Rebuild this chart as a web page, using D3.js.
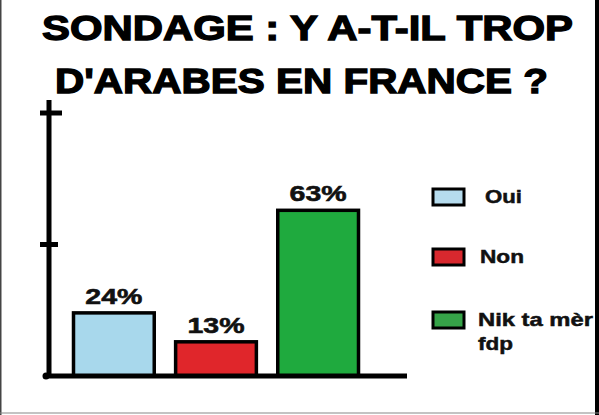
<!DOCTYPE html>
<html>
<head>
<meta charset="utf-8">
<script src="https://cdn.jsdelivr.net/npm/d3@7"></script>
<style>
  html, body { margin: 0; padding: 0; background: #fff; }
  svg { display: block; }
  text { font-family: "Liberation Sans", Arial, sans-serif; font-weight: bold; }
</style>
</head>
<body>
<script>
const titleLines = ["SONDAGE : Y A-T-IL TROP", "D'ARABES EN FRANCE ?"];
const categories = ["Oui", "Non", "Nik ta mèr fdp"];
const values = [24, 13, 63];
const valueLabels = ["24%", "13%", "63%"];
const legendLines = [["Oui"], ["Non"], ["Nik ta mèr", "fdp"]];
const yTicks = [50, 100];
const barColors = ["#a8d8ec", "#e0262b", "#1faa3e"];
const legendColors = ["#b6dcee", "#d8282e", "#36a348"];

const W = 599, H = 415;
const svg = d3.select("body").append("svg").attr("width", W).attr("height", H);

svg.append("rect").attr("width", W).attr("height", H).attr("fill", "#fff");

// frame
svg.append("rect").attr("x", 0).attr("y", 0).attr("width", 1.5).attr("height", H).attr("fill", "#444");
svg.append("rect").attr("x", 595).attr("y", 0).attr("width", 4).attr("height", H).attr("fill", "#000");
svg.append("rect").attr("x", 0).attr("y", 412.5).attr("width", W).attr("height", 1).attr("fill", "#888");

// title
const titleSpec = [{x: 42, y: 40, len: 531}, {x: 55, y: 93, len: 493}];
svg.selectAll("text.title").data(titleLines).join("text")
  .attr("class", "title")
  .attr("x", (d, i) => titleSpec[i].x)
  .attr("y", (d, i) => titleSpec[i].y)
  .attr("textLength", (d, i) => titleSpec[i].len)
  .attr("lengthAdjust", "spacingAndGlyphs")
  .attr("font-size", 35)
  .attr("fill", "#000").attr("stroke", "#000").attr("stroke-width", 1.3)
  .text(d => d);

// scales
const x = d3.scaleBand().domain(categories).range([72, 360]).paddingInner(0.18).paddingOuter(0);
const y = d3.scaleLinear().domain([0, 100]).range([376, 113]);

// bars
svg.selectAll("rect.bar").data(values).join("rect")
  .attr("class", "bar")
  .attr("x", (d, i) => x(categories[i]) + 1.5)
  .attr("y", d => y(d))
  .attr("width", x.bandwidth() - 3)
  .attr("height", d => y(0) - y(d))
  .attr("fill", (d, i) => barColors[i])
  .attr("stroke", "#000").attr("stroke-width", 3.5);

// value labels
svg.selectAll("text.val").data(values).join("text")
  .attr("class", "val")
  .attr("x", (d, i) => x(categories[i]) + x.bandwidth() / 2)
  .attr("y", d => y(d) - 9)
  .attr("text-anchor", "middle")
  .attr("textLength", 57).attr("lengthAdjust", "spacingAndGlyphs")
  .attr("font-size", 22)
  .attr("fill", "#111").attr("stroke", "#111").attr("stroke-width", 0.6)
  .text((d, i) => valueLabels[i]);

// axes
const axisX = 49;
svg.append("line").attr("x1", axisX).attr("x2", axisX).attr("y1", 100).attr("y2", y(0) + 2)
  .attr("stroke", "#000").attr("stroke-width", 5);
svg.append("line").attr("x1", 45).attr("x2", 407).attr("y1", y(0)).attr("y2", y(0))
  .attr("stroke", "#000").attr("stroke-width", 5);
svg.append("circle").attr("cx", 46).attr("cy", y(0)).attr("r", 3.5).attr("fill", "#000");
svg.selectAll("line.tick").data(yTicks).join("line")
  .attr("class", "tick")
  .attr("x1", 40).attr("x2", (d, i) => i === 1 ? 62 : 58)
  .attr("y1", d => y(d)).attr("y2", d => y(d))
  .attr("stroke", "#000").attr("stroke-width", 5);

// legend
const legY = [189, 249, 312];
const legG = svg.selectAll("g.leg").data(categories).join("g").attr("class", "leg");
legG.append("rect")
  .attr("x", 433).attr("y", (d, i) => legY[i])
  .attr("width", 31).attr("height", 16)
  .attr("fill", (d, i) => legendColors[i])
  .attr("stroke", "#000").attr("stroke-width", 3);
const legTextX = [485, 480, 478];
const legLens = [[37], [44], [115, 35]];
legG.each(function(d, i) {
  d3.select(this).selectAll("text").data(legendLines[i]).join("text")
    .attr("x", legTextX[i])
    .attr("y", (t, j) => legY[i] + 14 + j * 24)
    .attr("textLength", (t, j) => legLens[i][j])
    .attr("lengthAdjust", "spacingAndGlyphs")
    .attr("font-size", 19)
    .attr("fill", "#111").attr("stroke", "#111").attr("stroke-width", 0.5)
    .text(t => t);
});
</script>
</body>
</html>
